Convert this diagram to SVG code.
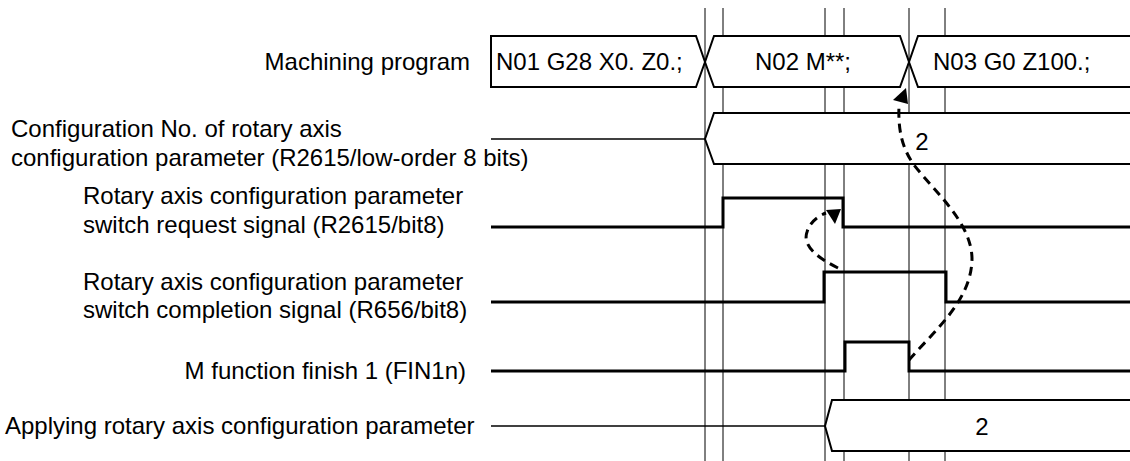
<svg xmlns="http://www.w3.org/2000/svg" width="1130" height="461" viewBox="0 0 1130 461">
<style>
text{font-family:"Liberation Sans",Arial,sans-serif;font-size:24px;fill:#000}
.grid{stroke:#000;stroke-width:1;fill:none}
.box{fill:#fff;stroke:#000;stroke-width:2}
.thin{stroke:#000;stroke-width:1.5;fill:none}
.sig{stroke:#000;stroke-width:3;fill:none}
.dash{stroke:#000;stroke-width:3;fill:none;stroke-dasharray:9 6}
.end{text-anchor:end}
.mid{text-anchor:middle}
</style>
<rect width="1130" height="461" fill="#fff"/>
<g id="gridlines">
<line class="grid" x1="705" y1="8" x2="705" y2="461"/>
<line class="grid" x1="723" y1="8" x2="723" y2="461"/>
<line class="grid" x1="825" y1="8" x2="825" y2="461"/>
<line class="grid" x1="844" y1="8" x2="844" y2="461"/>
<line class="grid" x1="909" y1="8" x2="909" y2="461"/>
<line class="grid" x1="945" y1="8" x2="945" y2="461"/>
</g>
<g id="program">
<text class="end" x="470" y="70">Machining program</text>
<polygon class="box" points="491,36 696,36 705,62 696,87 491,87"/>
<text x="496" y="70">N01 G28 X0. Z0.;</text>
<polygon class="box" points="714,36 900,36 909,62 900,87 714,87 705,62"/>
<text class="mid" x="803" y="70">N02 M**;</text>
<polygon class="box" points="918,36 1132,36 1132,87 918,87 909,62"/>
<text x="933" y="70">N03 G0 Z100.;</text>
</g>
<g id="config-no">
<text x="11" y="137">Configuration No. of rotary axis</text>
<text x="11" y="166">configuration parameter (R2615/low-order 8 bits)</text>
<line class="thin" x1="491" y1="139" x2="705" y2="139"/>
<polygon class="box" points="714,113 1132,113 1132,164 714,164 705,139"/>
<text class="mid" x="922" y="150">2</text>
</g>
<g id="switch-request">
<text x="83" y="204">Rotary axis configuration parameter</text>
<text x="83" y="233">switch request signal (R2615/bit8)</text>
<polyline class="sig" points="491,227 723,227 723,198 843,198 843,227 1130,227"/>
</g>
<g id="switch-completion">
<text x="83" y="290">Rotary axis configuration parameter</text>
<text x="83" y="318">switch completion signal (R656/bit8)</text>
<polyline class="sig" points="491,302 824,302 824,272 946,272 946,302 1130,302"/>
</g>
<g id="fin">
<text class="end" x="466" y="379">M function finish 1 (FIN1n)</text>
<polyline class="sig" points="491,371 845,371 845,342 909,342 909,371 1130,371"/>
</g>
<g id="applying">
<text x="5" y="434">Applying rotary axis configuration parameter</text>
<line class="thin" x1="491" y1="426" x2="825" y2="426"/>
<polygon class="box" points="832,400 1132,400 1132,451 832,451 825,426"/>
<text class="mid" x="982" y="435">2</text>
</g>
<g id="connectors">
<path class="dash" d="M838,268 C818,258 802,246 807,232 C810,222 818,216 826,213"/>
<polygon points="826,210 841,209 835,224" fill="#000"/>
<path class="dash" d="M909,360 C935,330 972,300 972,258 C971,222 935,192 914,165 C902,148 898,130 899,106"/>
<polygon points="893,100 906,88 908,104" fill="#000"/>
</g>
</svg>
